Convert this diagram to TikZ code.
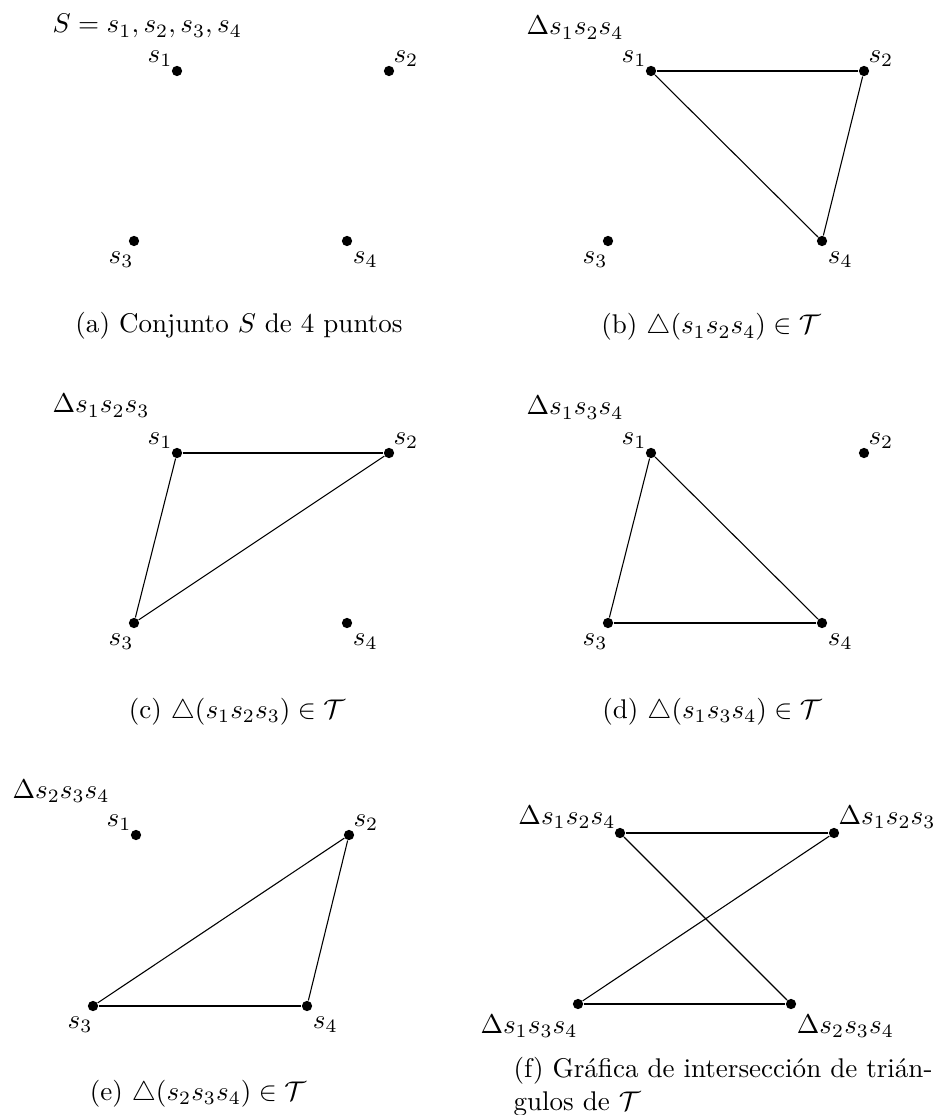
\documentclass[tikz,border=0pt]{standalone}
\usepackage{amsmath,amssymb}
\usepackage{fontspec}
\usepackage{tikz}
\usetikzlibrary{positioning}

\begin{document}
\begin{tikzpicture}[
  x=0.3698pt,y=-0.3698pt,
  vtx/.style={circle,fill,inner sep=0pt,minimum size=3.8pt},
  lbl/.style={inner sep=0pt},
  lbdl/.style={inner sep=0pt,anchor=north east,yshift=-1.6pt},
  lbdr/.style={inner sep=0pt,anchor=north west,xshift=2pt,yshift=-1.6pt},
  ttl/.style={anchor=base west,inner sep=0pt},
  capt/.style={anchor=base,inner sep=0pt},
  seg/.style={thin}]
\useasboundingbox (0,0) rectangle (933,1115);
% (a) the point set
\node[ttl] (ta) at (52,33) {$S = s_1, s_2, s_3, s_4$};
\node[vtx,label={[lbl]above left:$s_1$}] (a1) at (177,71) {};
\node[vtx,label={[lbl]above right:$s_2$}] (a2) at (389,71) {};
\node[vtx,label={[lbdl]below:$s_3$}] (a3) at (134,241) {};
\node[vtx,label={[lbdr]below:$s_4$}] (a4) at (347,241) {};
\node[capt] (capa) at (239,333) {(a) Conjunto $S$ de 4 puntos};
% (b)
\node[ttl] (tb) at (526,35) {$\Delta s_1s_2s_4$};
\node[vtx,label={[lbl]above left:$s_1$}] (b1) at (651,71) {};
\node[vtx,label={[lbl]above right:$s_2$}] (b2) at (864,71) {};
\node[vtx,label={[lbdl]below:$s_3$}] (b3) at (608,241) {};
\node[vtx,label={[lbdr]below:$s_4$}] (b4) at (822,241) {};
\draw[seg](b1)--(b2);\draw[seg](b2)--(b4);\draw[seg](b4)--(b1);
\node[capt] (capb) at (711,334) {(b) $\triangle(s_1s_2s_4)\in\mathcal{T}$};
% (c)
\node[ttl] (tc) at (52,413) {$\Delta s_1s_2s_3$};
\node[vtx,label={[lbl]above left:$s_1$}] (c1) at (177,453) {};
\node[vtx,label={[lbl]above right:$s_2$}] (c2) at (389,453) {};
\node[vtx,label={[lbdl]below:$s_3$}] (c3) at (134,623) {};
\node[vtx,label={[lbdr]below:$s_4$}] (c4) at (347,623) {};
\draw[seg](c1)--(c2);\draw[seg](c2)--(c3);\draw[seg](c3)--(c1);
\node[capt] (capc) at (237,718) {(c) $\triangle(s_1s_2s_3)\in\mathcal{T}$};
% (d)
\node[ttl] (td) at (526,415) {$\Delta s_1s_3s_4$};
\node[vtx,label={[lbl]above left:$s_1$}] (d1) at (651,453) {};
\node[vtx,label={[lbl]above right:$s_2$}] (d2) at (864,453) {};
\node[vtx,label={[lbdl]below:$s_3$}] (d3) at (608,623) {};
\node[vtx,label={[lbdr]below:$s_4$}] (d4) at (822,623) {};
\draw[seg](d1)--(d3);\draw[seg](d3)--(d4);\draw[seg](d4)--(d1);
\node[capt] (capd) at (712,718) {(d) $\triangle(s_1s_3s_4)\in\mathcal{T}$};
% (e)
\node[ttl] (te) at (12,798) {$\Delta s_2s_3s_4$};
\node[vtx,label={[lbl]above left:$s_1$}] (e1) at (136,835) {};
\node[vtx,label={[lbl]above right:$s_2$}] (e2) at (349,835) {};
\node[vtx,label={[lbdl]below:$s_3$}] (e3) at (93,1006) {};
\node[vtx,label={[lbdr]below:$s_4$}] (e4) at (307,1006) {};
\draw[seg](e2)--(e3);\draw[seg](e3)--(e4);\draw[seg](e4)--(e2);
\node[capt] (cape) at (198,1100) {(e) $\triangle(s_2s_3s_4)\in\mathcal{T}$};
% (f) intersection graph
\node[vtx,label={[lbl]above left:$\Delta s_1s_2s_4$}] (t124) at (620,833) {};
\node[vtx,label={[lbl]above right:$\Delta s_1s_2s_3$}] (t123) at (834,833) {};
\node[vtx,label={[lbdl]below:$\Delta s_1s_3s_4$}] (t134) at (578,1004) {};
\node[vtx,label={[lbdr]below:$\Delta s_2s_3s_4$}] (t234) at (791,1004) {};
\draw[seg](t124)--(t123);\draw[seg](t124)--(t234);
\draw[seg](t123)--(t134);\draw[seg](t134)--(t234);
\node[capt,anchor=base west,align=left] (capf) at (513,1110)
  {(f) Gráfica de intersección de trián-\\gulos de $\mathcal{T}$};
\end{tikzpicture}
\end{document}
